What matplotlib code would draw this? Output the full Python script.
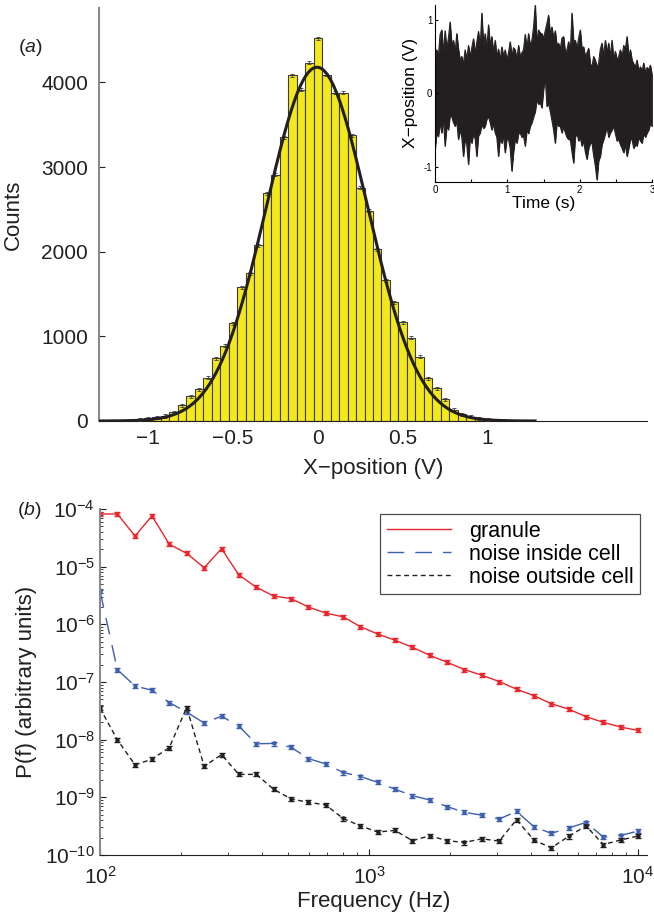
import numpy as np
import matplotlib
matplotlib.use("Agg")
import matplotlib.pyplot as plt
from matplotlib.lines import Line2D
from matplotlib.ticker import MultipleLocator, LogLocator, NullFormatter

plt.rcParams['font.family'] = ['Liberation Sans', 'DejaVu Sans']
plt.rcParams['mathtext.fontset'] = 'custom'
plt.rcParams['mathtext.rm'] = 'Liberation Sans'
plt.rcParams['mathtext.it'] = 'Liberation Sans:italic'

# ---- panel (a): histogram of x-position ----
bin_start = -1.10
bin_width = 0.05
counts = [8, 15, 32, 44, 59, 106, 185, 295, 374, 511, 740, 889, 1153, 1578,
          1743, 2074, 2692, 2912, 3352, 4083, 3916, 4235, 4525, 4090, 3876,
          3876, 3375, 2759, 2483, 2027, 1665, 1401, 1169, 984, 759, 504, 386,
          256, 130, 79, 51, 32, 20, 10, 5]
count_err = 18
# gaussian fit parameters (amplitude, centre, width)
fit_amp = 4180
fit_mu = -0.005
fit_sigma = 0.298
hist_xticks = [-1, -0.5, 0, 0.5, 1]
hist_xticklabels = ['\u22121', '\u22120.5', '0', '0.5', '1']

# ---- inset: time trace envelope (upper / lower edge of the noisy band) ----
trace_upper = [0.45, 0.59, 0.50, 0.80, 0.86, 0.55, 0.85, 0.60, 0.75, 0.97,
               0.65, 0.72, 0.55, 0.81, 0.60, 0.45, 0.50, 0.40, 0.59, 0.45,
               0.65, 0.50, 0.62, 0.74, 0.55, 0.70, 0.84, 0.60, 1.09, 0.65,
               0.81, 0.60, 0.93, 0.65, 0.77, 0.55, 0.72, 0.50, 0.60, 0.45,
               0.63, 0.50, 0.59, 0.45, 0.55, 0.70, 0.50, 0.62, 0.59, 0.45,
               0.65, 0.50, 0.55, 0.59, 0.80, 0.60, 0.81, 0.65, 0.72, 0.90,
               1.20, 0.70, 0.86, 0.82, 0.81, 0.75, 0.85, 0.95, 1.06, 0.80,
               0.90, 0.74, 0.85, 0.65, 0.68, 0.60, 0.75, 0.77, 0.55, 0.59,
               0.70, 0.55, 1.09, 0.70, 0.72, 0.60, 0.75, 0.86, 0.60, 0.63,
               0.50, 0.55, 0.61, 0.40, 0.36, 0.50, 0.45, 0.35, 0.41, 0.60,
               0.68, 0.50, 0.72, 0.55, 0.68, 0.50, 0.72, 0.45, 0.57, 0.45,
               0.50, 0.59, 0.50, 0.65, 0.60, 0.77, 0.50, 0.59, 0.45, 0.40,
               0.36, 0.45, 0.30, 0.36, 0.30, 0.41, 0.28, 0.35, 0.32, 0.38,
               0.25]
trace_lower = [-0.77, -0.55, -0.59, -0.40, -0.54, -0.35, -0.72, -0.45, -0.50, -0.30,
               -0.32, -0.40, -0.45, -0.38, -0.63, -0.50, -0.60, -0.86, -0.62, -0.70,
               -0.97, -0.60, -0.68, -0.55, -0.62, -0.86, -0.58, -0.54, -0.42, -0.48,
               -0.45, -0.35, -0.32, -0.40, -0.50, -0.42, -0.54, -0.60, -0.86, -0.60,
               -0.68, -0.58, -0.81, -0.62, -0.63, -0.75, -1.06, -0.80, -0.62, -0.68,
               -0.55, -0.54, -0.60, -0.58, -0.72, -0.50, -0.55, -0.45, -0.40, -0.32,
               -0.25, -0.09, -0.15, -0.13, -0.20, 0.05, 0.23, -0.18, -0.14, -0.25,
               -0.37, -0.50, -0.68, -0.40, -0.45, -0.45, -0.54, -0.45, -0.54, -0.60,
               -0.63, -0.63, -0.80, -0.95, -0.60, -0.54, -0.65, -0.60, -0.72, -0.65,
               -0.80, -0.90, -0.75, -0.68, -0.68, -0.85, -0.99, -1.18, -0.92, -0.86,
               -0.70, -0.63, -0.55, -0.45, -0.60, -0.54, -0.50, -0.45, -0.55, -0.65,
               -0.63, -0.70, -0.75, -0.81, -0.70, -0.86, -0.75, -0.63, -0.63, -0.75,
               -0.70, -0.72, -0.60, -0.65, -0.68, -0.55, -0.60, -0.54, -0.50, -0.41,
               -0.45]
trace_duration = 3.0

# ---- panel (b): power spectra ----
freq = [100, 116, 135, 156, 181, 210, 244, 283, 328, 381, 442, 513, 595, 690,
        801, 929, 1077, 1250, 1450, 1682, 1951, 2264, 2627, 3047, 3535, 4102,
        4759, 5521, 6406, 7430, 8620, 10000]
granule = [8.2e-5, 8.2e-5, 3.4e-5, 7.6e-5, 2.45e-5, 1.7e-5, 9.6e-6, 2.05e-5,
           7.2e-6, 4.4e-6, 3.1e-6, 2.8e-6, 2.0e-6, 1.57e-6, 1.35e-6, 9.1e-7,
           6.8e-7, 5.3e-7, 4.0e-7, 2.9e-7, 2.2e-7, 1.64e-7, 1.31e-7, 1.02e-7,
           7.5e-8, 5.8e-8, 4.2e-8, 3.4e-8, 2.5e-8, 2.0e-8, 1.65e-8, 1.45e-8]
noise_in = [3.8e-6, 1.64e-7, 8.5e-8, 7.2e-8, 4.4e-8, 3.0e-8, 1.94e-8, 2.56e-8,
            1.72e-8, 8.5e-9, 8.6e-9, 7.4e-9, 4.7e-9, 3.8e-9, 2.7e-9, 2.3e-9,
            1.82e-9, 1.38e-9, 1.07e-9, 9.0e-10, 6.9e-10, 5.5e-10, 4.9e-10, 4.2e-10,
            5.7e-10, 3.1e-10, 2.37e-10, 2.94e-10, 3.67e-10, 2.05e-10, 2.18e-10, 2.6e-10]
noise_out = [3.53e-8, 9.95e-9, 3.66e-9, 4.58e-9, 7.3e-9, 3.6e-8, 3.46e-9, 5.5e-9,
             2.5e-9, 2.5e-9, 1.38e-9, 9.4e-10, 8.2e-10, 7.4e-10, 4.3e-10, 3.2e-10,
             2.5e-10, 2.67e-10, 1.77e-10, 2.16e-10, 1.77e-10, 1.65e-10, 1.91e-10, 1.74e-10,
             4.1e-10, 1.82e-10, 1.33e-10, 2.1e-10, 3.2e-10, 1.52e-10, 1.82e-10, 2.13e-10]
rel_err = 0.08
series_labels = ['granule', 'noise inside cell', 'noise outside cell']

W, H = 654, 924
fig = plt.figure(figsize=(W / 100, H / 100), dpi=100)

# ========== panel (a) ==========
ax1 = fig.add_axes([99 / W, 1 - 421 / H, (647 - 99) / W, (421 - 8) / H])
centers = bin_start + bin_width * np.arange(len(counts))
ax1.bar(centers, counts, width=bin_width, color='#f2e81c', edgecolor='#3c3c3c',
        linewidth=0.8, zorder=2)
ax1.errorbar(centers, counts, yerr=count_err, fmt='none', ecolor='#3c3c3c',
             elinewidth=0.6, capsize=1.5, capthick=0.6, zorder=3)
xf = np.linspace(-1.29, 1.28, 400)
ax1.plot(xf, fit_amp * np.exp(-(xf - fit_mu) ** 2 / (2 * fit_sigma ** 2)),
         color='#231f20', lw=2.2, zorder=4)
ax1.set_xlim(-1.29, 1.94)
ax1.set_ylim(0, 4880)
ax1.set_xticks(hist_xticks)
ax1.set_xticklabels(hist_xticklabels)
ax1.set_yticks([0, 1000, 2000, 3000, 4000])
ax1.tick_params(axis='x', length=0, pad=6, labelsize=15, colors='#231f20')
ax1.tick_params(axis='y', direction='in', length=4, pad=8, labelsize=15, colors='#231f20')
for s in ['top', 'right']:
    ax1.spines[s].set_visible(False)
ax1.spines['left'].set_color('#8a8a8a')
ax1.spines['left'].set_linewidth(1.5)
ax1.spines['bottom'].set_color('#231f20')
ax1.set_xlabel('X\u2212position (V)', fontsize=16, labelpad=7, color='#231f20')
ax1.set_ylabel('Counts', fontsize=16, labelpad=12, color='#231f20')
fig.text(18 / W, 1 - 52 / H, r'($\mathit{a}$)', fontsize=14, color='#231f20')

# ---- inset ----
axi = fig.add_axes([435 / W, 1 - 182 / H, (652 - 435) / W, (182 - 5) / H])
t_trace = np.linspace(0, trace_duration, len(trace_upper))
axi.fill_between(t_trace, trace_lower, trace_upper, color='#231f20', lw=0.6)
axi.plot(t_trace, trace_upper, color='#231f20', lw=0.7)
axi.plot(t_trace, trace_lower, color='#231f20', lw=0.7)
axi.set_xlim(0, 3)
axi.set_ylim(-1.21, 1.2)
axi.set_xticks([0, 1, 2, 3])
axi.xaxis.set_minor_locator(MultipleLocator(0.5))
axi.set_yticks([-1, 0, 1])
axi.set_yticklabels(['-1', '0', '1'])
axi.tick_params(which='both', direction='in', length=2.5, labelsize=7, pad=2, width=0.8)
for s in ['top', 'right']:
    axi.spines[s].set_visible(False)
axi.set_xlabel('Time (s)', fontsize=12.5, labelpad=1)
axi.set_ylabel('X\u2212position (V)', fontsize=12.5, labelpad=4)
axi.patch.set_alpha(0)

# ========== panel (b) ==========
ax2 = fig.add_axes([100 / W, 1 - 855 / H, (647 - 100) / W, (855 - 509) / H])
styles = [('#e8262b', None), ('#3d5fae', (12, 8)), ('#231f20', (3.5, 2.5))]
handles = []
for vals, (col, dash), lab in zip([granule, noise_in, noise_out], styles, series_labels):
    v = np.array(vals)
    kw = {} if dash is None else {'dashes': dash}
    ax2.errorbar(freq, v, yerr=rel_err * v, color=col, lw=1.0, marker='o', ms=2.2,
                 capsize=2, elinewidth=0.8, **kw)
    handles.append(Line2D([], [], color=col, lw=1.0, **kw))
ax2.set_xscale('log')
ax2.set_yscale('log')
ax2.set_xlim(100, 10800)
ax2.set_ylim(1e-10, 1e-4)
ax2.yaxis.set_major_locator(LogLocator(base=10, numticks=10))
ax2.yaxis.set_minor_locator(LogLocator(base=10, subs=np.arange(2, 10), numticks=10))
ax2.yaxis.set_minor_formatter(NullFormatter())
ax2.xaxis.set_minor_formatter(NullFormatter())
ax2.tick_params(which='both', direction='in', labelsize=15, colors='#231f20')
ax2.tick_params(which='major', length=4)
ax2.tick_params(which='minor', length=2.5)
ax2.tick_params(axis='x', pad=8)
for s in ['top', 'right']:
    ax2.spines[s].set_visible(False)
ax2.spines['left'].set_color('#8a8a8a')
ax2.spines['left'].set_linewidth(1.5)
ax2.spines['bottom'].set_color('#231f20')
ax2.set_xlabel('Frequency (Hz)', fontsize=16, labelpad=2, color='#231f20')
ax2.set_ylabel('P(f) (arbitrary units)', fontsize=16, labelpad=6, color='#231f20')
leg = ax2.legend(handles, series_labels, loc='upper right',
                 bbox_to_anchor=(0.987, 0.985), fontsize=15.5,
                 frameon=True, fancybox=False, edgecolor='#231f20', handlelength=3.0,
                 labelspacing=0.1, borderpad=0.3, handletextpad=0.8, borderaxespad=0)
leg.get_frame().set_linewidth(0.9)
fig.text(17 / W, 1 - 515 / H, r'($\mathit{b}$)', fontsize=14, color='#231f20')

fig.savefig('out.png', dpi=100)
